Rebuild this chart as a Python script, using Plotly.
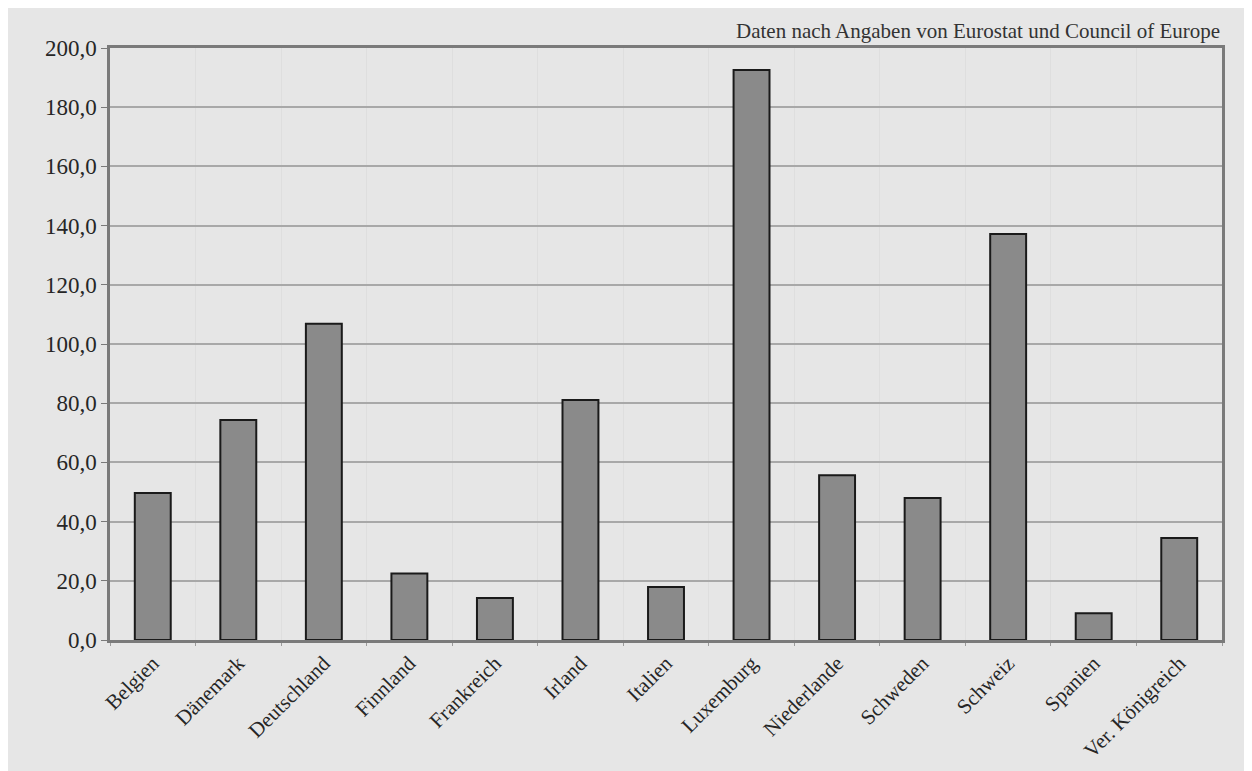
import plotly.graph_objects as go

categories = ["Belgien", "Dänemark", "Deutschland", "Finnland", "Frankreich", "Irland",
              "Italien", "Luxemburg", "Niederlande", "Schweden", "Schweiz", "Spanien",
              "Ver. Königreich"]
values = [49.7, 74.3, 106.8, 22.5, 14.2, 81.1, 17.9, 192.6, 55.7, 48.0, 137.2, 9.0, 34.5]
y_ticks = [0, 20, 40, 60, 80, 100, 120, 140, 160, 180, 200]
y_tick_labels = [f"{v:.1f}".replace(".", ",") for v in y_ticks]
source_note = "Daten nach Angaben von Eurostat und Council of Europe"

BG = "#e6e6e6"
FONT = "Liberation Serif, Times New Roman, serif"

fig = go.Figure(go.Bar(
    x=categories, y=values,
    marker=dict(color="#8a8a8a", line=dict(color="#1a1a1a", width=2)),
    width=0.42,
))

# page body has an 8px margin; figure occupies x 8..1252, y 8..771
W, H = 1244, 763
L, R, T, B = 102, 30, 40, 131

fig.update_layout(
    width=W, height=H,
    margin=dict(l=L, r=R, t=T, b=B, autoexpand=False),
    paper_bgcolor=BG,
    plot_bgcolor=BG,
    showlegend=False,
    font=dict(family=FONT, size=23, color="#262626"),
    xaxis=dict(
        automargin=False,
        tickangle=-45,
        showline=True, linecolor="#7a7a7a", linewidth=2.5, mirror=True,
        showgrid=True, gridcolor="#dedede", gridwidth=1,
        tickson="boundaries",
        ticks="outside", ticklen=3, tickcolor="#9a9a9a",
        tickfont=dict(size=21),
    ),
    yaxis=dict(
        automargin=False,
        range=[0, 200],
        tickvals=y_ticks, ticktext=y_tick_labels,
        showline=True, linecolor="#7a7a7a", linewidth=2.5, mirror=True,
        showgrid=True, gridcolor="#a8a8a8", gridwidth=1.5,
        ticks="outside", ticklen=6, tickcolor="#7a7a7a",
        tickfont=dict(size=23), zeroline=False,
    ),
    annotations=[dict(
        text=source_note, xref="paper", yref="paper",
        x=1.0, y=1.0, xanchor="right", yanchor="bottom", yshift=3,
        showarrow=False, font=dict(family=FONT, size=21, color="#333333"),
    )],
)

fig.write_html("out.html")
